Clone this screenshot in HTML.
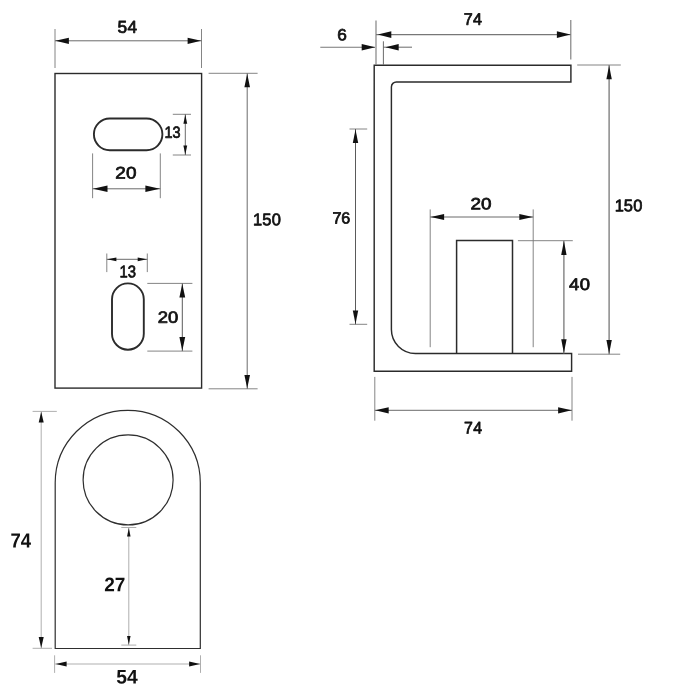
<!DOCTYPE html>
<html><head><meta charset="utf-8"><title>Bracket dimensions</title>
<style>
html,body{margin:0;padding:0;background:#fff}
svg{display:block;will-change:transform}
text{font-family:"Liberation Sans",sans-serif;stroke-linejoin:round;text-rendering:geometricPrecision}
text.b{font-weight:700}
text.m{font-weight:400}
</style></head><body>
<svg width="691" height="691" viewBox="0 0 691 691">
<rect width="691" height="691" fill="#fff"/>
<rect x="55" y="73.5" width="146.6" height="314.6" fill="none" stroke="#2b2b2b" stroke-width="1.4"/>
<rect x="93.9" y="118.5" width="68.5" height="31.7" rx="15.85" fill="none" stroke="#2b2b2b" stroke-width="1.9"/>
<rect x="112" y="283.4" width="31.8" height="66.3" rx="15.9" fill="none" stroke="#2b2b2b" stroke-width="1.9"/>
<line x1="55" y1="29" x2="55" y2="68" stroke="#777" stroke-width="0.9"/>
<line x1="201.5" y1="29" x2="201.5" y2="68" stroke="#777" stroke-width="0.9"/>
<line x1="55" y1="40.8" x2="201.5" y2="40.8" stroke="#5a5a5a" stroke-width="0.9"/>
<polygon points="55.40,40.80 68.90,37.70 68.90,43.90" fill="#111"/>
<polygon points="201.10,40.80 187.60,37.70 187.60,43.90" fill="#111"/>
<text class="m" transform="translate(118.17 32.86) scale(1.009 1) rotate(0.03)" x="-0.69 9.35" y="0" font-size="17.13" fill="#111" stroke="#111" stroke-width="0.75">54</text>
<line x1="172.8" y1="114.3" x2="191" y2="114.3" stroke="#777" stroke-width="0.9"/>
<line x1="172.8" y1="155" x2="191" y2="155" stroke="#777" stroke-width="0.9"/>
<line x1="185.3" y1="114.3" x2="185.3" y2="155" stroke="#5a5a5a" stroke-width="0.9"/>
<polygon points="185.30,114.60 183.40,123.80 187.20,123.80" fill="#111"/>
<polygon points="185.30,154.70 183.40,145.50 187.20,145.50" fill="#111"/>
<text class="m" transform="translate(165.57 137.77) scale(0.893 1) rotate(0.03)" x="-1.23 7.89" y="0" font-size="16.17" fill="#111" stroke="#111" stroke-width="0.75">13</text>
<line x1="92.6" y1="153.4" x2="92.6" y2="198.2" stroke="#777" stroke-width="0.9"/>
<line x1="160.3" y1="153.4" x2="160.3" y2="198.2" stroke="#777" stroke-width="0.9"/>
<line x1="92.6" y1="188.8" x2="160.3" y2="188.8" stroke="#5a5a5a" stroke-width="0.9"/>
<polygon points="93.00,188.80 107.50,185.60 107.50,192.00" fill="#111"/>
<polygon points="159.90,188.80 145.40,185.60 145.40,192.00" fill="#111"/>
<text class="m" transform="translate(116.28 178.56) scale(1.130 1) rotate(0.03)" x="-0.84 8.56" y="0" font-size="16.74" fill="#111" stroke="#111" stroke-width="0.75">20</text>
<line x1="106.8" y1="253.5" x2="106.8" y2="272.1" stroke="#777" stroke-width="0.9"/>
<line x1="147.3" y1="253.5" x2="147.3" y2="272.1" stroke="#777" stroke-width="0.9"/>
<line x1="106.8" y1="259.3" x2="147.3" y2="259.3" stroke="#5a5a5a" stroke-width="0.9"/>
<polygon points="107.20,259.30 116.40,257.40 116.40,261.20" fill="#111"/>
<polygon points="146.90,259.30 137.70,257.40 137.70,261.20" fill="#111"/>
<text class="m" transform="translate(120.58 277.26) scale(0.887 1) rotate(0.03)" x="-1.27 8.17" y="0" font-size="16.74" fill="#111" stroke="#111" stroke-width="0.75">13</text>
<line x1="147.3" y1="283.4" x2="192.4" y2="283.4" stroke="#777" stroke-width="0.9"/>
<line x1="147.3" y1="351.1" x2="192.4" y2="351.1" stroke="#777" stroke-width="0.9"/>
<line x1="182.3" y1="283.4" x2="182.3" y2="351.1" stroke="#5a5a5a" stroke-width="1.0"/>
<polygon points="182.30,283.80 179.40,297.60 185.20,297.60" fill="#111"/>
<polygon points="182.30,350.70 179.40,336.90 185.20,336.90" fill="#111"/>
<text class="m" transform="translate(158.57 322.67) scale(1.129 1) rotate(0.03)" x="-0.82 8.34" y="0" font-size="16.31" fill="#111" stroke="#111" stroke-width="0.75">20</text>
<line x1="208.6" y1="73.3" x2="257.6" y2="73.3" stroke="#777" stroke-width="0.9"/>
<line x1="208.6" y1="388.8" x2="257.6" y2="388.8" stroke="#777" stroke-width="0.9"/>
<line x1="247.2" y1="73.3" x2="247.2" y2="388.8" stroke="#5a5a5a" stroke-width="0.9"/>
<polygon points="247.20,73.70 244.40,87.20 250.00,87.20" fill="#111"/>
<polygon points="247.20,388.40 244.40,374.90 250.00,374.90" fill="#111"/>
<text class="m" transform="translate(254.28 225.26) scale(0.977 1) rotate(0.03)" x="-1.29 8.20 17.83" y="0" font-size="16.88" fill="#111" stroke="#111" stroke-width="0.75">150</text>
<path d="M55.2 648.5 V482.8 A72.55 72.55 0 0 1 200.3 482.8 V648.5 Z" fill="none" stroke="#2e2e2e" stroke-width="1.2"/>
<circle cx="128.1" cy="479.9" r="45" fill="none" stroke="#2e2e2e" stroke-width="1.2"/>
<line x1="32.6" y1="411.4" x2="56.8" y2="411.4" stroke="#a6a6a6" stroke-width="0.9"/>
<line x1="32.6" y1="648.3" x2="52" y2="648.3" stroke="#a6a6a6" stroke-width="0.9"/>
<line x1="41.2" y1="411.4" x2="41.2" y2="648.3" stroke="#a6a6a6" stroke-width="0.9"/>
<polygon points="41.20,411.80 38.70,422.60 43.70,422.60" fill="#111"/>
<polygon points="41.20,647.90 38.70,637.10 43.70,637.10" fill="#111"/>
<text class="b" transform="translate(10.50 547.40) scale(0.903 1) rotate(0.03)" x="0.00 11.40" y="0" font-size="20.49" fill="#111">74</text>
<line x1="121.3" y1="527.5" x2="136.3" y2="527.5" stroke="#a6a6a6" stroke-width="0.9"/>
<line x1="121.3" y1="645.1" x2="136.3" y2="645.1" stroke="#a6a6a6" stroke-width="0.9"/>
<line x1="128.8" y1="527.5" x2="128.8" y2="645.1" stroke="#a6a6a6" stroke-width="0.9"/>
<polygon points="128.80,527.90 127.05,536.60 130.55,536.60" fill="#111"/>
<polygon points="128.80,644.70 127.05,636.00 130.55,636.00" fill="#111"/>
<text class="b" transform="translate(104.14 591.30) scale(0.964 1) rotate(0.03)" x="0.00 10.99" y="0" font-size="19.76" fill="#111">27</text>
<line x1="54.6" y1="655.3" x2="54.6" y2="672.9" stroke="#a6a6a6" stroke-width="0.9"/>
<line x1="200.5" y1="655.3" x2="200.5" y2="672.9" stroke="#a6a6a6" stroke-width="0.9"/>
<line x1="55" y1="664" x2="200.5" y2="664" stroke="#a6a6a6" stroke-width="0.9"/>
<polygon points="55.60,664.00 66.60,661.50 66.60,666.50" fill="#111"/>
<polygon points="200.10,664.00 189.10,661.50 189.10,666.50" fill="#111"/>
<text class="b" transform="translate(116.31 683.51) scale(0.984 1) rotate(0.03)" x="0.00 10.92" y="0" font-size="19.63" fill="#111">54</text>
<path d="M374.2 65.2 H570.9 V81.9 H396.4 A5 5 0 0 0 391.4 86.9 V329.5 A24 24 0 0 0 415.4 353.5 H571.6 V371.2 H374.2 Z" fill="none" stroke="#2b2b2b" stroke-width="1.45"/>
<path d="M456.6 353.5 V240.5 H512.5 V353.5" fill="none" stroke="#2b2b2b" stroke-width="1.5"/>
<line x1="376" y1="20.4" x2="376" y2="64.7" stroke="#777" stroke-width="1.1"/>
<line x1="570.8" y1="20" x2="570.8" y2="59.4" stroke="#777" stroke-width="1.1"/>
<line x1="376" y1="34.6" x2="570.8" y2="34.6" stroke="#777" stroke-width="1.1"/>
<polygon points="377.80,34.60 391.30,31.30 391.30,37.90" fill="#111"/>
<polygon points="570.40,34.60 556.90,31.30 556.90,37.90" fill="#111"/>
<text class="m" transform="translate(464.48 24.82) scale(0.972 1) rotate(0.03)" x="-0.85 8.76" y="0" font-size="16.64" fill="#111" stroke="#111" stroke-width="0.75">74</text>
<line x1="320.3" y1="47.2" x2="375" y2="47.2" stroke="#777" stroke-width="1.1"/>
<line x1="383.4" y1="47.2" x2="412" y2="47.2" stroke="#777" stroke-width="1.1"/>
<line x1="383.4" y1="41.3" x2="383.4" y2="64.7" stroke="#5a5a5a" stroke-width="0.9"/>
<polygon points="375.20,47.20 361.70,43.90 361.70,50.50" fill="#111"/>
<polygon points="385.40,47.20 398.70,43.90 398.70,50.50" fill="#111"/>
<text class="m" transform="translate(338.18 40.27) scale(1.065 1) rotate(0.03)" x="-0.82" y="0" font-size="16.17" fill="#111" stroke="#111" stroke-width="0.75">6</text>
<line x1="349.5" y1="129" x2="367.2" y2="129" stroke="#777" stroke-width="0.9"/>
<line x1="349.5" y1="324.3" x2="367.2" y2="324.3" stroke="#777" stroke-width="0.9"/>
<line x1="355.5" y1="129" x2="355.5" y2="324.3" stroke="#5a5a5a" stroke-width="1.0"/>
<polygon points="355.50,129.40 352.80,142.90 358.20,142.90" fill="#111"/>
<polygon points="355.50,323.90 352.80,310.40 358.20,310.40" fill="#111"/>
<text class="m" transform="translate(333.27 223.47) scale(0.991 1) rotate(0.03)" x="-0.84 8.14" y="0" font-size="16.31" fill="#111" stroke="#111" stroke-width="0.75">76</text>
<line x1="430.2" y1="209.4" x2="430.2" y2="347.2" stroke="#777" stroke-width="0.9"/>
<line x1="533.2" y1="209.4" x2="533.2" y2="347.2" stroke="#777" stroke-width="0.9"/>
<line x1="430.2" y1="217" x2="533.2" y2="217" stroke="#5a5a5a" stroke-width="0.9"/>
<polygon points="430.60,217.00 444.10,213.90 444.10,220.10" fill="#111"/>
<polygon points="532.80,217.00 519.30,213.90 519.30,220.10" fill="#111"/>
<text class="m" transform="translate(471.38 209.37) scale(1.169 1) rotate(0.03)" x="-0.81 8.27" y="0" font-size="16.17" fill="#111" stroke="#111" stroke-width="0.75">20</text>
<line x1="517.9" y1="240.7" x2="572.8" y2="240.7" stroke="#777" stroke-width="0.9"/>
<line x1="563.9" y1="240.7" x2="563.9" y2="353.5" stroke="#777" stroke-width="1.3"/>
<polygon points="563.90,241.10 561.20,254.90 566.60,254.90" fill="#111"/>
<polygon points="563.90,353.10 561.20,339.30 566.60,339.30" fill="#111"/>
<text class="m" transform="translate(569.48 290.06) scale(1.101 1) rotate(0.03)" x="-0.38 9.37" y="0" font-size="16.74" fill="#111" stroke="#111" stroke-width="0.75">40</text>
<line x1="577.2" y1="65" x2="620.8" y2="65" stroke="#777" stroke-width="0.9"/>
<line x1="578" y1="354.2" x2="620.2" y2="354.2" stroke="#777" stroke-width="0.9"/>
<line x1="609.1" y1="65" x2="609.1" y2="354.2" stroke="#777" stroke-width="1.3"/>
<polygon points="609.10,65.40 606.40,79.20 611.80,79.20" fill="#111"/>
<polygon points="609.10,353.80 606.40,340.00 611.80,340.00" fill="#111"/>
<text class="m" transform="translate(615.88 211.36) scale(0.982 1) rotate(0.03)" x="-1.27 8.14 17.68" y="0" font-size="16.74" fill="#111" stroke="#111" stroke-width="0.75">150</text>
<line x1="374.8" y1="376.9" x2="374.8" y2="420.7" stroke="#777" stroke-width="0.9"/>
<line x1="572" y1="376.9" x2="572" y2="420.7" stroke="#777" stroke-width="0.9"/>
<line x1="374.8" y1="410.3" x2="572" y2="410.3" stroke="#5a5a5a" stroke-width="0.9"/>
<polygon points="375.20,410.30 388.70,407.20 388.70,413.40" fill="#111"/>
<polygon points="571.60,410.30 558.10,407.20 558.10,413.40" fill="#111"/>
<text class="m" transform="translate(464.77 433.62) scale(0.947 1) rotate(0.03)" x="-0.86 8.84" y="0" font-size="16.79" fill="#111" stroke="#111" stroke-width="0.75">74</text>
</svg>
</body></html>
